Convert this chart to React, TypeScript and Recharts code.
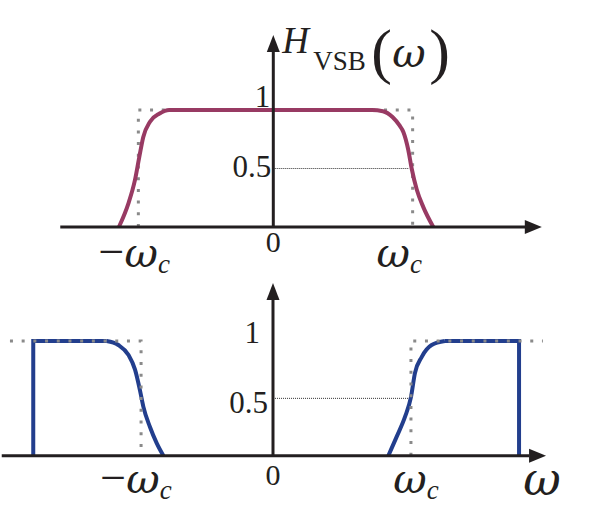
import React from 'react';
import { LineChart, Line, XAxis, YAxis, ReferenceDot } from 'recharts';

// frequency in units of wc, amplitude 0..1
const topCurve = [
  { w: -1.127, h: 0 }, { w: -1.058, h: 0.2 }, { w: -1.01, h: 0.4 }, { w: -0.978, h: 0.6 },
  { w: -0.949, h: 0.77 }, { w: -0.9, h: 0.9 }, { w: -0.83, h: 0.97 }, { w: -0.76, h: 1 },
  { w: 0.72, h: 1 }, { w: 0.8, h: 0.99 }, { w: 0.87, h: 0.94 }, { w: 0.92, h: 0.87 },
  { w: 0.95, h: 0.81 }, { w: 0.985, h: 0.66 }, { w: 1.01, h: 0.5 }, { w: 1.047, h: 0.32 },
  { w: 1.095, h: 0.17 }, { w: 1.168, h: 0 },
];
const topIdeal = [{ w: -0.985, h: 0 }, { w: -0.985, h: 1 }, { w: 1.017, h: 1 }, { w: 1.017, h: 0 }];
const topHalf = [{ w: 0, h: 0.5 }, { w: 0.985, h: 0.5 }];
const topAxisW = [{ w: -1.555, h: 0 }, { w: 1.85, h: 0 }];
const topAxisH = [{ w: 0, h: 0 }, { w: 0, h: 1.52 }];

const botLeftEdge = [{ w: -1.75, h: 0 }, { w: -1.75, h: 1 }, { w: -1.214, h: 1 }];
const botLeftCurve = [
  { w: -1.214, h: 1 }, { w: -1.129, h: 0.965 }, { w: -1.056, h: 0.88 }, { w: -1.007, h: 0.75 },
  { w: -0.971, h: 0.57 }, { w: -0.947, h: 0.43 }, { w: -0.898, h: 0.25 }, { w: -0.849, h: 0.11 },
  { w: -0.8, h: 0 },
];
const botRightCurve = [
  { w: 0.842, h: 0 }, { w: 0.903, h: 0.166 }, { w: 0.964, h: 0.34 }, { w: 1.007, h: 0.51 },
  { w: 1.036, h: 0.72 }, { w: 1.085, h: 0.86 }, { w: 1.158, h: 0.965 }, { w: 1.255, h: 1 },
];
const botRightEdge = [{ w: 1.255, h: 1 }, { w: 1.796, h: 1 }, { w: 1.796, h: 0 }];
const botIdealLeft = [{ w: -1.92, h: 1 }, { w: -0.963, h: 1 }, { w: -0.963, h: 0 }];
const botIdealRight = [{ w: 1.007, h: 0 }, { w: 1.007, h: 1 }, { w: 1.97, h: 1 }];
const botHalf = [{ w: 0, h: 0.5 }, { w: 1.007, h: 0.5 }];
const botAxisW = [{ w: -1.98, h: 0 }, { w: 1.87, h: 0 }];
const botAxisH = [{ w: 0, h: 0 }, { w: 0, h: 1.36 }];

const xTicks = [-1, 0, 1];
const yTicks = [0.5, 1];

const FONT = '"Liberation Serif", "Times New Roman", serif';
const GREEK = '"DejaVu Serif", serif';
const MAROON = '#983A63';
const BLUE = '#223E8D';
const GRAY = '#8A8A8A';
const INK = '#231F20';

const arrow = (dir: 'up' | 'right') => (p: any) => {
  const { cx, cy } = p;
  const pts = dir === 'right'
    ? `${cx},${cy} ${cx - 17},${cy - 7} ${cx - 17},${cy + 7}`
    : `${cx},${cy} ${cx - 6.5},${cy + 17} ${cx + 6.5},${cy + 17}`;
  return <polygon points={pts} fill={INK} />;
};

const OmegaC = ({ cx, cy, neg, dx, dy }: any) => (
  <text x={cx + dx} y={cy + dy} textAnchor="middle" fontFamily={FONT} fontSize={46} fill={INK}>
    {neg ? <tspan>−</tspan> : null}
    <tspan fontFamily={GREEK} fontStyle="italic" fontSize={41}>ω</tspan>
    <tspan fontStyle="italic" fontSize={27} dy={6}>c</tspan>
  </text>
);

const xLabel = (v: number, zeroDy: number, wDy: number, shift: Record<string, number>) => (p: any) => {
  if (v === 0) {
    return (
      <text x={p.cx} y={p.cy + zeroDy} textAnchor="middle" fontFamily={FONT} fontSize={30} fill={INK}>0</text>
    );
  }
  return <OmegaC cx={p.cx} cy={p.cy} neg={v < 0} dx={shift[String(v)]} dy={wDy} />;
};

const yLabel = (v: number, pos: Record<string, number[]>) => (p: any) => {
  const [dx, dy] = pos[String(v)];
  return (
    <text x={p.cx + dx} y={p.cy + dy} textAnchor="end" fontFamily={FONT} fontSize={31} fill={INK}>{String(v)}</text>
  );
};

const titleShape = (p: any) => {
  const { cx, cy } = p;
  return (
    <g fontFamily={FONT} fill={INK}>
      <text x={cx + 9} y={cy + 18} fontSize={37} fontStyle="italic">H</text>
      <text x={cx + 40} y={cy + 35} fontSize={27}>VSB</text>
      <text x={cx + 98} y={cy + 37} fontSize={62}>(</text>
      <text x={cx + 119} y={cy + 32} fontFamily={GREEK} fontSize={41} fontStyle="italic">ω</text>
      <text x={cx + 156} y={cy + 37} fontSize={62}>)</text>
    </g>
  );
};

const axisName = (p: any) => (
  <text x={p.cx - 4} y={p.cy + 39} textAnchor="middle" fontFamily={GREEK} fontSize={46} fontStyle="italic" fill={INK}>ω</text>
);

const dotted = { stroke: GRAY, strokeWidth: 3, strokeDasharray: '3 8.7' };
const common = { dataKey: 'h', dot: false, activeDot: false, isAnimationActive: false } as const;

export default function App() {
  return (
    <div style={{ position: 'absolute', left: 0, top: 0, width: 602, height: 531, background: '#fff' }}>
      <LineChart width={602} height={280} margin={{ top: 0, right: 0, bottom: 0, left: 0 }}>
        <XAxis dataKey="w" type="number" hide allowDataOverflow domain={[-1.9949, 2.3993]} />
        <YAxis type="number" hide allowDataOverflow domain={[-0.453, 1.9402]} />
        <Line {...common} data={topIdeal} type="linear" {...dotted} />
        <Line {...common} data={topHalf} type="linear" stroke="#333" strokeWidth={1} strokeDasharray="1 1" />
        <Line {...common} data={topCurve} type="monotone" stroke={MAROON} strokeWidth={4} />
        <Line {...common} data={topAxisW} type="linear" stroke={INK} strokeWidth={3} />
        <Line {...common} data={topAxisH} type="linear" stroke={INK} strokeWidth={3} />
        <ReferenceDot x={1.96} y={0} r={0} ifOverflow="visible" shape={arrow('right')} />
        <ReferenceDot x={0} y={1.641} r={0} ifOverflow="visible" shape={arrow('up')} />
        <ReferenceDot x={0} y={1.641} r={0} ifOverflow="visible" shape={titleShape} />
        {xTicks.map((v) => (
          <ReferenceDot key={'tx' + v} x={v} y={0} r={0} ifOverflow="visible"
            shape={xLabel(v, 25, 40, { '-1': -2, '1': -11 })} />
        ))}
        {yTicks.map((v) => (
          <ReferenceDot key={'ty' + v} x={0} y={v} r={0} ifOverflow="visible"
            shape={yLabel(v, { '0.5': [-2, 8.5], '1': [-3, -3] })} />
        ))}
      </LineChart>
      <div style={{ position: 'absolute', left: 0, top: 280 }}>
        <LineChart width={602} height={251} margin={{ top: 0, right: 0, bottom: 0, left: 0 }}>
          <XAxis dataKey="w" type="number" hide allowDataOverflow domain={[-1.9927, 2.4015]} />
          <YAxis type="number" hide allowDataOverflow domain={[-0.6565, 1.5318]} />
          <Line {...common} data={botHalf} type="linear" stroke="#333" strokeWidth={1} strokeDasharray="1 1" />
          <Line {...common} data={botLeftEdge} type="linear" stroke={BLUE} strokeWidth={4} />
          <Line {...common} data={botLeftCurve} type="monotone" stroke={BLUE} strokeWidth={4} />
          <Line {...common} data={botRightCurve} type="monotone" stroke={BLUE} strokeWidth={4} />
          <Line {...common} data={botRightEdge} type="linear" stroke={BLUE} strokeWidth={4} />
          <Line {...common} data={botIdealLeft} type="linear" {...dotted} />
          <Line {...common} data={botIdealRight} type="linear" {...dotted} />
          <Line {...common} data={botAxisW} type="linear" stroke={INK} strokeWidth={3} />
          <Line {...common} data={botAxisH} type="linear" stroke={INK} strokeWidth={3} />
          <ReferenceDot x={1.993} y={0} r={0} ifOverflow="visible" shape={arrow('right')} />
          <ReferenceDot x={0} y={1.506} r={0} ifOverflow="visible" shape={arrow('up')} />
          <ReferenceDot x={1.993} y={0} r={0} ifOverflow="visible" shape={axisName} />
          {xTicks.map((v) => (
            <ReferenceDot key={'bx' + v} x={v} y={0} r={0} ifOverflow="visible"
              shape={xLabel(v, 29, 37, { '-1': 0, '1': 6 })} />
          ))}
          {yTicks.map((v) => (
            <ReferenceDot key={'by' + v} x={0} y={v} r={0} ifOverflow="visible"
              shape={yLabel(v, { '0.5': [-5, 15], '1': [-13, 2] })} />
          ))}
        </LineChart>
      </div>
    </div>
  );
}
